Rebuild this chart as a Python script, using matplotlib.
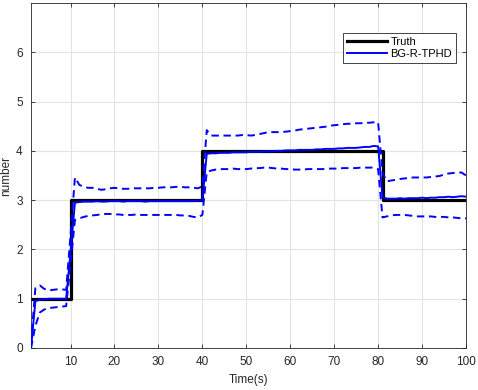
import numpy as np
import matplotlib
matplotlib.use('Agg')
from matplotlib import pyplot as plt

plt.rcParams['font.family'] = ['Liberation Sans', 'DejaVu Sans']

# time steps 1..100
k = np.arange(1, 101)

# true number of targets
truth = np.array([1] * 9 + [3] * 30 + [4] * 41 + [3] * 20)

# mean estimated number (BG-R-TPHD)
est_mean = np.array([
    0.00, 0.95, 0.98, 0.99, 1.00, 1.00, 1.00, 1.00, 1.00, 1.95,
    2.95, 2.96, 2.97, 2.97, 2.97, 2.98, 2.97, 2.97, 2.98, 2.98,
    2.98, 2.97, 2.98, 2.98, 2.98, 2.98, 2.97, 2.98, 2.98, 2.98,
    2.98, 2.98, 2.98, 2.98, 2.98, 2.98, 2.98, 2.98, 2.99, 3.00,
    3.94, 3.95, 3.95, 3.96, 3.96, 3.96, 3.97, 3.97, 3.97, 3.97,
    3.98, 3.98, 3.98, 3.99, 3.99, 3.99, 4.00, 4.00, 4.01, 4.01,
    4.01, 4.02, 4.02, 4.02, 4.02, 4.03, 4.03, 4.04, 4.04, 4.04,
    4.05, 4.05, 4.06, 4.06, 4.06, 4.07, 4.08, 4.08, 4.10, 4.09,
    3.06, 3.03, 3.03, 3.03, 3.04, 3.03, 3.04, 3.04, 3.04, 3.05,
    3.04, 3.05, 3.05, 3.06, 3.06, 3.07, 3.06, 3.07, 3.08, 3.07,
])

# upper dashed bound
est_upper = np.array([
    0.10, 1.22, 1.27, 1.20, 1.17, 1.18, 1.19, 1.19, 1.18, 2.30,
    3.46, 3.31, 3.27, 3.25, 3.25, 3.23, 3.21, 3.22, 3.24, 3.25,
    3.24, 3.23, 3.23, 3.24, 3.24, 3.24, 3.24, 3.24, 3.25, 3.25,
    3.26, 3.26, 3.26, 3.27, 3.27, 3.26, 3.26, 3.25, 3.24, 3.28,
    4.42, 4.31, 4.31, 4.31, 4.31, 4.31, 4.31, 4.31, 4.32, 4.32,
    4.31, 4.32, 4.34, 4.36, 4.38, 4.38, 4.38, 4.38, 4.39, 4.40,
    4.41, 4.43, 4.44, 4.45, 4.46, 4.47, 4.48, 4.49, 4.51, 4.52,
    4.53, 4.54, 4.55, 4.55, 4.56, 4.56, 4.57, 4.57, 4.58, 4.58,
    3.55, 3.38, 3.40, 3.41, 3.43, 3.44, 3.45, 3.46, 3.46, 3.46,
    3.46, 3.47, 3.48, 3.49, 3.52, 3.54, 3.55, 3.56, 3.56, 3.50,
])

# lower dashed bound
est_lower = np.array([
    0.00, 0.45, 0.72, 0.78, 0.81, 0.82, 0.83, 0.84, 0.85, 1.70,
    2.60, 2.63, 2.66, 2.68, 2.69, 2.70, 2.71, 2.72, 2.72, 2.71,
    2.71, 2.70, 2.70, 2.70, 2.71, 2.70, 2.70, 2.70, 2.70, 2.70,
    2.70, 2.70, 2.70, 2.70, 2.69, 2.69, 2.68, 2.66, 2.65, 2.70,
    3.57, 3.60, 3.62, 3.63, 3.63, 3.63, 3.64, 3.63, 3.63, 3.63,
    3.64, 3.65, 3.65, 3.66, 3.66, 3.65, 3.64, 3.64, 3.63, 3.63,
    3.62, 3.62, 3.62, 3.63, 3.63, 3.63, 3.63, 3.63, 3.64, 3.64,
    3.64, 3.65, 3.65, 3.65, 3.65, 3.66, 3.66, 3.66, 3.66, 3.63,
    2.65, 2.67, 2.69, 2.70, 2.70, 2.70, 2.69, 2.68, 2.67, 2.67,
    2.67, 2.67, 2.66, 2.66, 2.66, 2.65, 2.65, 2.64, 2.63, 2.63,
])

fig = plt.figure(figsize=(4.78, 3.9), dpi=100, facecolor='white')
ax = fig.add_axes([31 / 478, 42 / 390, 435 / 478, 345 / 390])

dash = (0, (3.8, 2.4))
ax.plot(k, truth, color='black', linewidth=2.3, drawstyle='steps-post', label='Truth', zorder=2)
ax.plot(k, est_mean, color='blue', linewidth=1.4, label='BG-R-TPHD', zorder=3)
ax.plot(k, est_upper, color='blue', linewidth=1.4, linestyle=dash, zorder=3)
ax.plot(k, est_lower, color='blue', linewidth=1.4, linestyle=dash, zorder=3)

ax.set_xlim(1, 100)
ax.set_ylim(0, 7)
ax.set_xticks(np.arange(10, 101, 10))
ax.set_yticks(np.arange(0, 7, 1))

ax.grid(True, color='#e3e3e3', linewidth=0.8)
ax.set_axisbelow(True)
for s in ax.spines.values():
    s.set_color('#262626')
    s.set_linewidth(0.6)
ax.tick_params(direction='in', length=3, width=0.6, colors='#262626',
               labelsize=8.5, top=True, right=True, pad=6)

ax.set_xlabel('Time(s)', fontsize=8.5, color='#262626', labelpad=4)
ax.set_ylabel('number', fontsize=8.5, color='#262626', labelpad=3)

leg = ax.legend(loc='upper right', bbox_to_anchor=(0.977, 0.913), borderaxespad=0,
                fontsize=8, fancybox=False, framealpha=1, edgecolor='#262626',
                handlelength=3.6, handletextpad=0.3, borderpad=0.35, labelspacing=0.2)
leg.get_frame().set_linewidth(0.6)

fig.savefig('out.png', dpi=100)
